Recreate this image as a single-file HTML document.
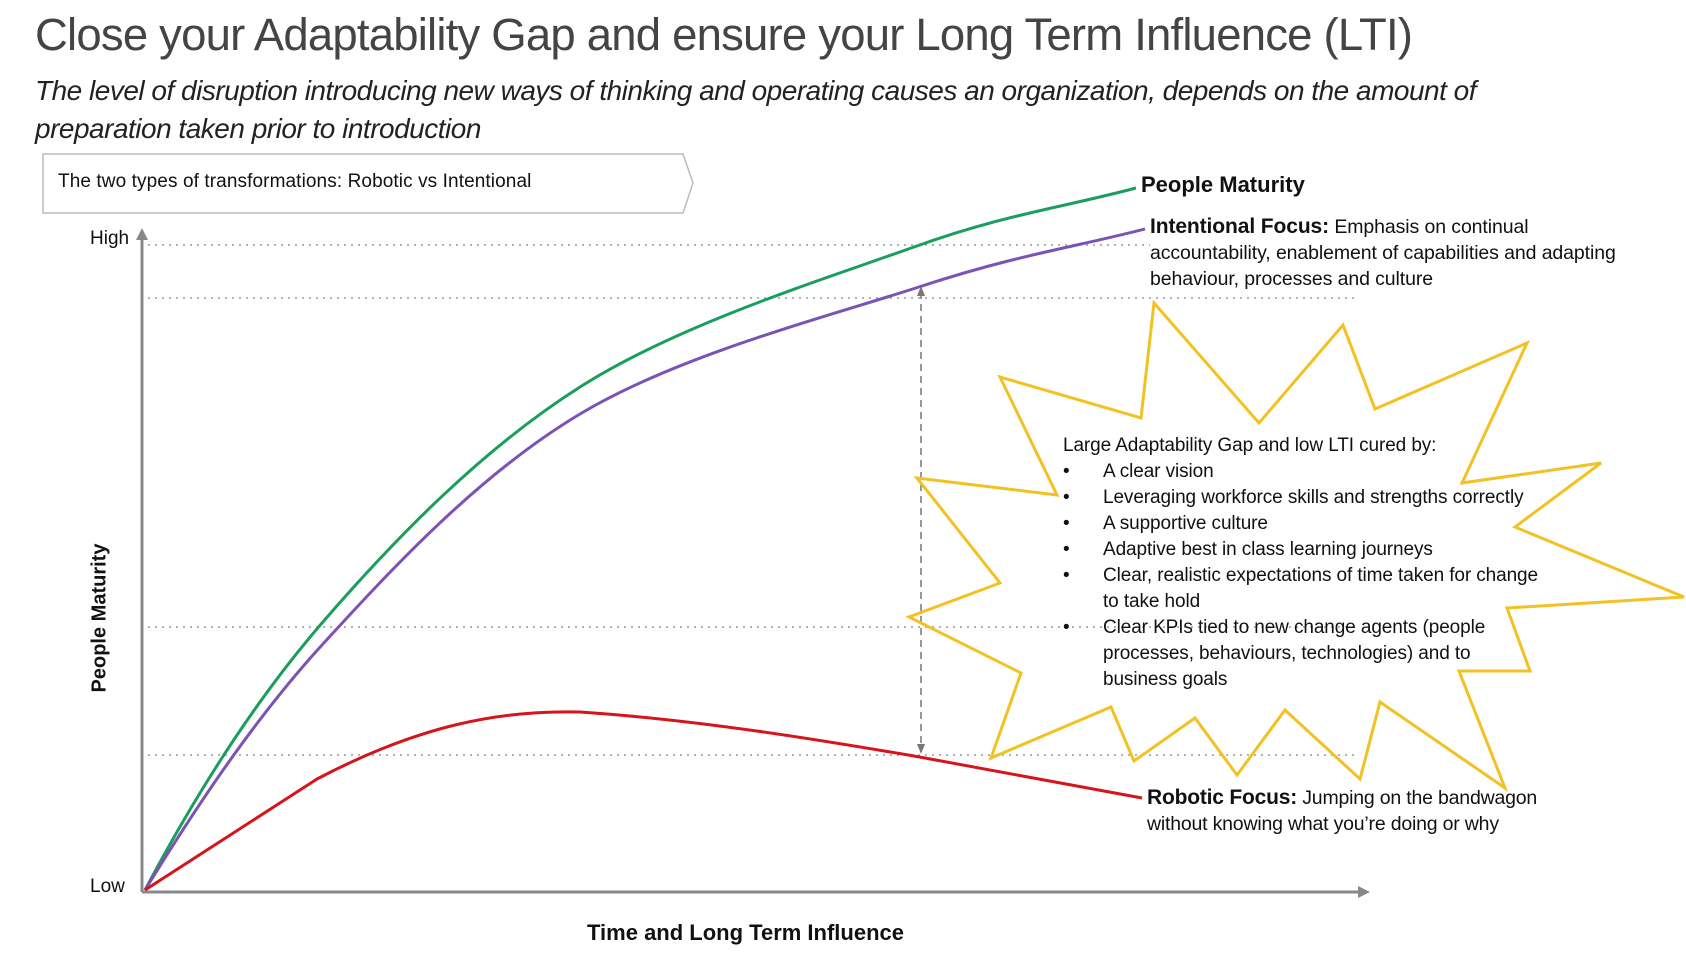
<!DOCTYPE html>
<html><head><meta charset="utf-8"><style>
body{margin:0;width:1686px;height:978px;background:#fff;position:relative;overflow:hidden;font-family:"Liberation Sans",sans-serif;color:#111}
.a{position:absolute;white-space:nowrap}
</style></head><body>
<div class="a" style="left:35px;top:9px;font-size:45.5px;color:#444;letter-spacing:-0.8px">Close your Adaptability Gap and ensure your Long Term Influence (LTI)</div>
<div class="a" style="left:35px;top:72px;font-size:28px;font-style:italic;color:#222;letter-spacing:-0.5px;line-height:38px">The level of disruption introducing new ways of thinking and operating causes an organization, depends on the amount of<br>preparation taken prior to introduction</div>
<svg width="1686" height="978" style="position:absolute;left:0;top:0">
<polygon points="43,154 683,154 693,183 683,213 43,213" fill="#fff" stroke="#bbb" stroke-width="1.5"/>
<g stroke="#999" stroke-width="1.5" stroke-dasharray="2,5">
<line x1="148" y1="245" x2="1150" y2="245"/>
<line x1="148" y1="298" x2="1355" y2="298"/>
<line x1="148" y1="627" x2="1355" y2="627"/>
<line x1="148" y1="755" x2="1355" y2="755"/>
</g>
<line x1="142" y1="892" x2="142" y2="236" stroke="#888" stroke-width="3"/>
<polygon points="136,240 142,228 148,240" fill="#888"/>
<line x1="142" y1="892" x2="1360" y2="892" stroke="#888" stroke-width="3"/>
<polygon points="1358,886 1370,892 1358,898" fill="#888"/>
<line x1="921" y1="292" x2="921" y2="747" stroke="#777" stroke-width="1.5" stroke-dasharray="7,5"/>
<polygon points="917,296 921,286 925,296" fill="#777"/>
<polygon points="917,744 921,754 925,744" fill="#777"/>
<path d="M145,890 C190,805 249.5,706.8 322,623 C394.5,539.2 481.3,449.7 580,387 C678.7,324.3 821.3,280.2 914,247 C1006.7,213.8 1062,207.7 1136,188" fill="none" stroke="#1a9e5c" stroke-width="3"/>
<path d="M145,890 C188,820 249.5,724.3 322,645 C394.5,565.7 480,473.8 580,414 C680,354.2 827.8,316.8 922,286 C1016.2,255.2 1070.7,248 1145,229" fill="none" stroke="#7b52b5" stroke-width="3"/>
<path d="M145,890 L317,779 C420,725 500,710 580,712 C700,720 820,740 914,756 L1142,798" fill="none" stroke="#d6141c" stroke-width="3"/>
<polygon points="1154,303 1259,423 1343,325 1375,409 1527,343 1462,483 1601,463 1515,527 1684,597 1507,608 1530,671 1459,671 1505,788 1380,702 1360,779 1285,710 1237,775 1195,718 1134,761 1111,707 991,758 1021,673 909,617 1000,583 917,478 1057,495 1000,377 1141,418" fill="none" stroke="#f2c122" stroke-width="3" stroke-linejoin="miter"/>
</svg>
<div class="a" style="left:58px;top:171px;font-size:19px;letter-spacing:0.1px">The two types of transformations: Robotic vs Intentional</div>
<div class="a" style="left:90px;top:228px;font-size:19px">High</div>
<div class="a" style="left:90px;top:876px;font-size:19px">Low</div>
<div class="a" style="left:100px;top:618px;font-size:20px;font-weight:bold;transform:translate(-50%,-50%) rotate(-90deg)">People Maturity</div>
<div class="a" style="left:587px;top:920px;font-size:22px;font-weight:bold">Time and Long Term Influence</div>
<div class="a" style="left:1141px;top:172px;font-size:22px;font-weight:bold">People Maturity</div>
<div class="a" style="left:1150px;top:214px;font-size:19.5px;line-height:26px;letter-spacing:-0.1px"><b style="font-size:21px">Intentional Focus:</b> Emphasis on continual<br>accountability, enablement of capabilities and adapting<br>behaviour, processes and culture</div>
<div class="a" style="left:1147px;top:785px;font-size:19.5px;line-height:26px;letter-spacing:-0.2px"><b style="font-size:21px">Robotic Focus:</b> Jumping on the bandwagon<br>without knowing what you’re doing or why</div>
<div class="a" style="left:1063px;top:433px;font-size:19px;line-height:26px;letter-spacing:-0.1px">Large Adaptability Gap and low LTI cured by:</div>
<div class="a" style="left:1063px;top:459px;font-size:19px;line-height:26px">•<br>•<br>•<br>•<br>•<br><br>•</div>
<div class="a" style="left:1103px;top:459px;font-size:19px;line-height:26px;letter-spacing:-0.1px">A clear vision<br>Leveraging workforce skills and strengths correctly<br>A supportive culture<br>Adaptive best in class learning journeys<br>Clear, realistic expectations of time taken for change<br>to take hold<br>Clear KPIs tied to new change agents (people<br>processes, behaviours, technologies) and to<br>business goals</div>
</body></html>
